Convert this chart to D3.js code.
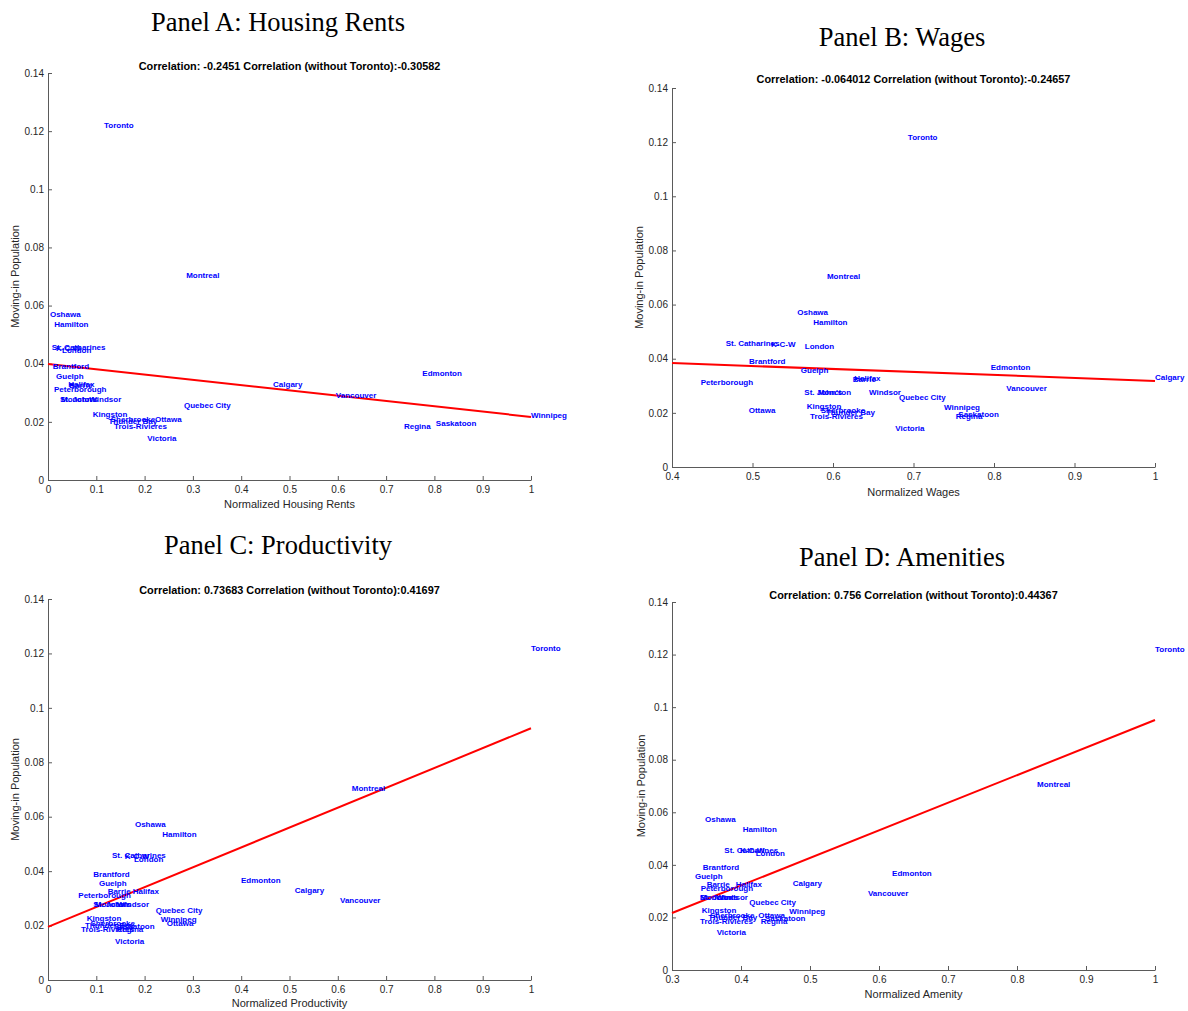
<!DOCTYPE html>
<html>
<head>
<meta charset="utf-8">
<script src="https://cdn.jsdelivr.net/npm/d3@7"></script>
<style>
  body { margin: 0; background: #fff; }
  svg { font-family: "Liberation Sans", Arial, Helvetica, sans-serif; }
</style>
</head>
<body>
<svg id="chart" width="1188" height="1011"></svg>
<script>
// city names
var cities = ["Toronto", "Montreal", "Vancouver", "Calgary", "Edmonton", "Ottawa", "Winnipeg",
  "Quebec City", "Hamilton", "K-C-W", "London", "Victoria", "Halifax", "Oshawa", "Windsor",
  "Saskatoon", "Regina", "Sherbrooke", "St. John's", "Barrie", "Kingston", "Trois-Rivieres",
  "Guelph", "Moncton", "Brantford", "Peterborough", "Thunder Bay", "St. Catharines"];

// moving-in population (y, same for every panel)
var movingIn = [0.122, 0.0705, 0.0292, 0.033, 0.0367, 0.021, 0.0222,
  0.0258, 0.0535, 0.0455, 0.0445, 0.0144, 0.0328, 0.0572, 0.0278,
  0.0196, 0.0186, 0.0208, 0.0278, 0.0325, 0.0226, 0.0186,
  0.0356, 0.0278, 0.039, 0.0313, 0.0202, 0.0457];

// x values of each panel
var housingRents = [0.116, 0.286, 0.596, 0.466, 0.775, 0.2215, 1.0,
  0.2816, 0.0129, 0.0166, 0.029, 0.2056, 0.042, 0.004, 0.0856,
  0.803, 0.737, 0.13, 0.0248, 0.044, 0.0925, 0.1366,
  0.0166, 0.027, 0.0097, 0.0124, 0.125, 0.0076];

var wages = [0.693, 0.5925, 0.8153, 1.0, 0.796, 0.4953, 0.738,
  0.682, 0.5755, 0.523, 0.565, 0.6774, 0.6265, 0.5557, 0.6447,
  0.7557, 0.7524, 0.5847, 0.5644, 0.6245, 0.5673, 0.5714,
  0.56, 0.581, 0.4957, 0.4356, 0.5913, 0.4667];

var productivity = [1.0, 0.629, 0.6046, 0.511, 0.3996, 0.2457, 0.2333,
  0.223, 0.2367, 0.159, 0.178, 0.1387, 0.1753, 0.18, 0.143,
  0.137, 0.142, 0.088, 0.0938, 0.1235, 0.08, 0.0683,
  0.1056, 0.097, 0.0938, 0.0628, 0.0766, 0.1325];

var amenity = [1.0, 0.829, 0.584, 0.4749, 0.619, 0.4251, 0.47,
  0.412, 0.4024, 0.3986, 0.4213, 0.3647, 0.3923, 0.3478, 0.3638,
  0.4348, 0.4285, 0.355, 0.3406, 0.3502, 0.343, 0.3406,
  0.3333, 0.3406, 0.3445, 0.3415, 0.3527, 0.3758];

// panel texts
var panelTitles = ["Panel A: Housing Rents", "Panel B: Wages", "Panel C: Productivity", "Panel D: Amenities"];
var corrTexts = [
  "Correlation: -0.2451 Correlation (without Toronto):-0.30582",
  "Correlation: -0.064012 Correlation (without Toronto):-0.24657",
  "Correlation: 0.73683 Correlation (without Toronto):0.41697",
  "Correlation: 0.756 Correlation (without Toronto):0.44367"
];
var xLabels = ["Normalized Housing Rents", "Normalized Wages", "Normalized Productivity", "Normalized Amenity"];
var xDomains = [[0, 1], [0.4, 1], [0, 1], [0.3, 1]];
var xTickValues = [
  [0, 0.1, 0.2, 0.3, 0.4, 0.5, 0.6, 0.7, 0.8, 0.9, 1],
  [0.4, 0.5, 0.6, 0.7, 0.8, 0.9, 1],
  [0, 0.1, 0.2, 0.3, 0.4, 0.5, 0.6, 0.7, 0.8, 0.9, 1],
  [0.3, 0.4, 0.5, 0.6, 0.7, 0.8, 0.9, 1]
];
var yTickValues = [0, 0.02, 0.04, 0.06, 0.08, 0.1, 0.12, 0.14];

// fitted line
var fitIntercept = [0.0399, 0.0428, 0.0195, -0.0098];
var fitSlope = [-0.0182, -0.011, 0.073, 0.1049];

var xSeries = [housingRents, wages, productivity, amenity];

// layout of each panel (pixel boxes)
var boxes = [
  { left: 48, right: 531, top: 73, bottom: 480, titleX: 278, titleY: 31, corrY: 70, ylabX: 19, xlabY: 508 },
  { left: 672, right: 1155, top: 88, bottom: 467, titleX: 902, titleY: 46, corrY: 83, ylabX: 643, xlabY: 496 },
  { left: 48, right: 531, top: 599, bottom: 980, titleX: 278, titleY: 554, corrY: 594, ylabX: 19, xlabY: 1007 },
  { left: 672, right: 1155, top: 602, bottom: 970, titleX: 902, titleY: 566, corrY: 599, ylabX: 645, xlabY: 998 }
];

var svg = d3.select("#chart");
var axisColor = "#5a5a5a";
var fmt = function (d) { return d3.format("")(+d.toFixed(2)); };

boxes.forEach(function (b, i) {
  var xScale = d3.scaleLinear().domain(xDomains[i]).range([b.left, b.right]);
  var yScale = d3.scaleLinear().domain([0, 0.14]).range([b.bottom, b.top]);
  var g = svg.append("g");

  // axes, ticks pointing inward like matlab
  var xAxis = g.append("g")
    .attr("transform", "translate(0," + b.bottom + ")")
    .call(d3.axisBottom(xScale).tickValues(xTickValues[i]).tickSizeInner(-4).tickSizeOuter(0).tickPadding(6).tickFormat(fmt));
  var yAxis = g.append("g")
    .attr("transform", "translate(" + b.left + ",0)")
    .call(d3.axisLeft(yScale).tickValues(yTickValues).tickSizeInner(-4).tickSizeOuter(0).tickPadding(4).tickFormat(fmt));
  [xAxis, yAxis].forEach(function (ax) {
    ax.select(".domain").attr("stroke", axisColor).attr("stroke-width", 1);
    ax.selectAll(".tick line").attr("stroke", axisColor);
    ax.selectAll(".tick text").attr("fill", "#262626").style("font-size", "10px");
  });

  // titles
  g.append("text")
    .attr("x", b.titleX).attr("y", b.titleY)
    .attr("text-anchor", "middle")
    .style("font-family", "'Liberation Serif', 'Times New Roman', serif")
    .style("font-size", "26.5px")
    .attr("fill", "#000")
    .text(panelTitles[i]);
  g.append("text")
    .attr("x", (b.left + b.right) / 2).attr("y", b.corrY)
    .attr("text-anchor", "middle")
    .style("font-size", "10.9px").style("font-weight", "bold")
    .attr("fill", "#000")
    .text(corrTexts[i]);

  // axis labels
  g.append("text")
    .attr("x", (b.left + b.right) / 2).attr("y", b.xlabY)
    .attr("text-anchor", "middle")
    .style("font-size", "11px").attr("fill", "#262626")
    .text(xLabels[i]);
  g.append("text")
    .attr("transform", "translate(" + b.ylabX + "," + (b.top + b.bottom) / 2 + ") rotate(-90)")
    .attr("text-anchor", "middle")
    .style("font-size", "11px").attr("fill", "#262626")
    .text("Moving-in Population");

  // fitted line
  var lineGenerator = d3.line()
    .x(function (d) { return xScale(d); })
    .y(function (d) { return yScale(fitIntercept[i] + fitSlope[i] * d); });
  g.append("path")
    .datum(xDomains[i])
    .attr("fill", "none")
    .attr("stroke", "#ff0000")
    .attr("stroke-width", 2)
    .attr("d", lineGenerator);

  // city labels
  g.selectAll("text.city")
    .data(cities)
    .enter()
    .append("text")
    .attr("class", "city")
    .attr("x", function (d, j) { return xScale(xSeries[i][j]); })
    .attr("y", function (d, j) { return yScale(movingIn[j]); })
    .attr("dy", "0.35em")
    .style("font-size", "8px").style("font-weight", "bold")
    .attr("fill", "#0000ff")
    .text(function (d) { return d; });
});
</script>
</body>
</html>
